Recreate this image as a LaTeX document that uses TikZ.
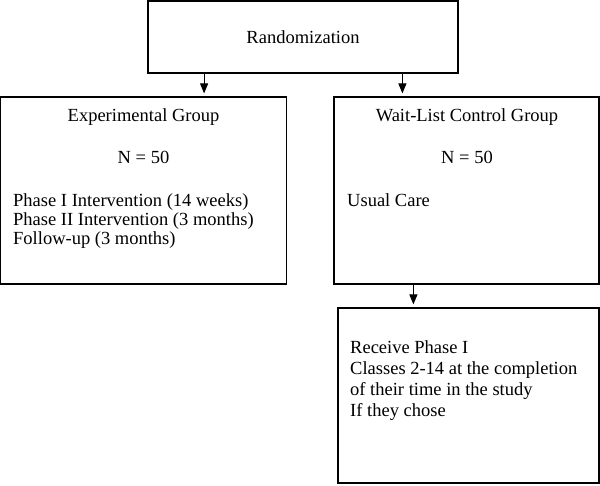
\documentclass[tikz,border=0pt]{standalone}
\usepackage{fontspec}
\setmainfont{Liberation Serif}
\usetikzlibrary{arrows.meta}
\begin{document}
\begin{tikzpicture}[x=1pt,y=-1pt,
  box/.style={draw, line width=1.2pt, rectangle, inner sep=0pt},
  txt/.style={anchor=base, inner sep=0pt, font=\fontsize{18.5}{19}\selectfont},
  ltxt/.style={anchor=base west, inner sep=0pt, font=\fontsize{18.5}{19}\selectfont},
  arr/.style={line width=1pt, -{Triangle[length=10pt,width=8pt]}, shorten >=3pt}]
\useasboundingbox (0,0) rectangle (600,485);
% boxes
\node[box, minimum width=310pt, minimum height=72pt] (rand) at (303,37) {};
\node[box, minimum width=286pt, minimum height=187pt] (exp) at (143.5,190.5) {};
\node[box, minimum width=265pt, minimum height=187pt] (wait) at (466.5,190.5) {};
\node[box, minimum width=261pt, minimum height=175pt] (recv) at (468.5,395.5) {};
% texts
\node[txt] (t0) at (303,43) {Randomization};
\node[txt] (t1) at (143.5,121) {Experimental Group};
\node[txt] (t2) at (143.5,163) {N = 50};
\node[ltxt] (t3) at (13,206) {Phase I Intervention (14 weeks)};
\node[ltxt] (t4) at (13,225) {Phase II Intervention (3 months)};
\node[ltxt] (t5) at (13,244) {Follow-up (3 months)};
\node[txt] (t6) at (467,121) {Wait-List Control Group};
\node[txt] (t7) at (467,163) {N = 50};
\node[ltxt] (t8) at (347,206) {Usual Care};
\node[ltxt] (t9) at (350,353) {Receive Phase I};
\node[ltxt] (t10) at (350,374) {Classes 2-14 at the completion};
\node[ltxt] (t11) at (350,395) {of their time in the study};
\node[ltxt] (t12) at (350,416) {If they chose};
% arrows
\draw[arr] (rand.south -| exp.north east) ++(-83,0) coordinate (a1) -- (a1 |- exp.north);
\draw[arr] (rand.south -| wait.north west) ++(69,0) coordinate (a2) -- (a2 |- wait.north);
\draw[arr] (wait.south -| recv.north west) ++(76,0) coordinate (a3) -- (a3 |- recv.north);
\end{tikzpicture}
\end{document}
